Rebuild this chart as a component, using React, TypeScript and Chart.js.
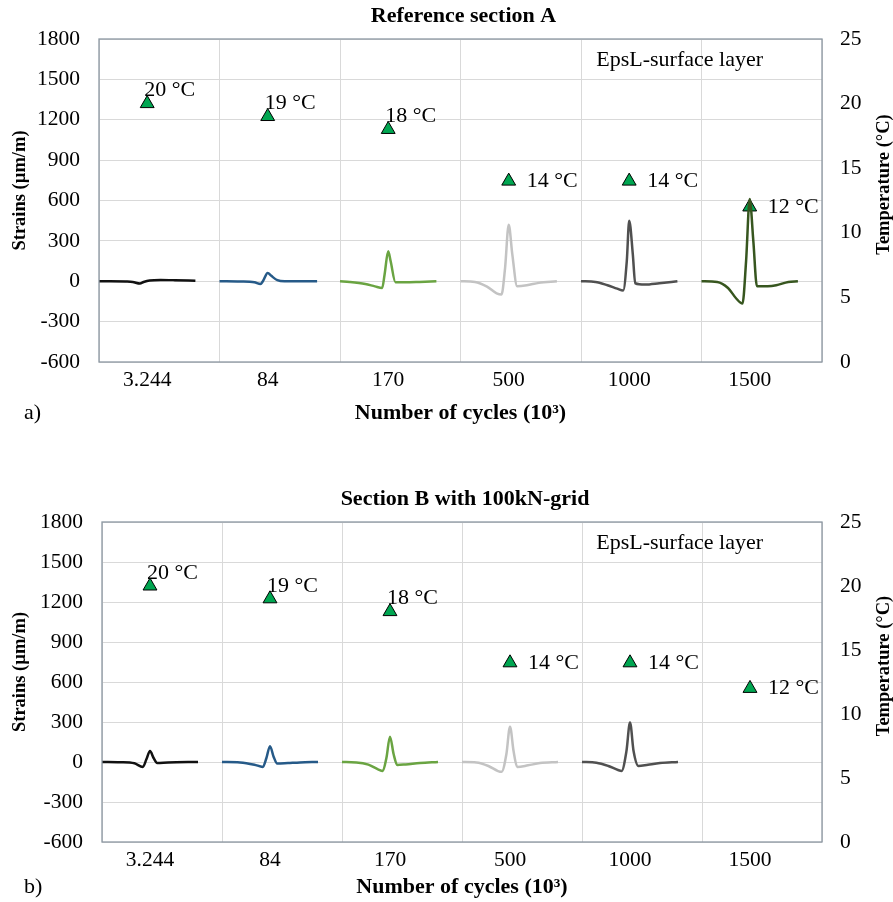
import React, { useEffect, useRef } from 'react';
import { Chart, registerables } from 'chart.js';

Chart.register(...registerables);

// ---------- data ----------
const categories = ['3.244', '84', '170', '500', '1000', '1500'];
const temperatureA = [20, 19, 18, 14, 14, 12];
const temperatureB = [20, 19, 18, 14, 14, 12];
const strainAxis = { min: -600, max: 1800, step: 300 };
const tempAxis = { min: 0, max: 25, step: 5 };
// time of the strain peak inside each loading window (fraction of one slot);
// temperature markers and cycle labels sit there
const peakTime = 0.4;

// time within a loading window (fraction of one category slot) and strain (µm/m)
// Section A
const a3244T = [0, 0.09, 0.22, 0.28, 0.34, 0.37, 0.42, 0.51, 0.63, 0.8];
const a3244V = [0, 0, -2, -5, -17, -6, 6, 10, 8, 3];
const a84T = [0, 0.17, 0.29, 0.34, 0.36, 0.4, 0.43, 0.48, 0.54, 0.67, 0.81];
const a84V = [0, -2, -8, -20, 0, 62, 40, 8, 0, 0, 0];
const a170T = [0, 0.08, 0.21, 0.29, 0.35, 0.37, 0.4, 0.42, 0.46, 0.54, 0.66, 0.8];
const a170V = [0, -5, -20, -38, -50, 50, 222, 150, -7, -8, -5, 0];
const a500T = [0, 0.12, 0.22, 0.3, 0.34, 0.37, 0.4, 0.43, 0.47, 0.55, 0.65, 0.8];
const a500V = [0, -5, -40, -90, -99, 100, 420, 200, -37, -30, -12, 0];
const a1000T = [0, 0.12, 0.22, 0.3, 0.35, 0.38, 0.4, 0.43, 0.45, 0.53, 0.65, 0.8];
const a1000V = [0, -5, -30, -55, -69, 150, 450, 200, -15, -25, -15, 0];
const a1500T = [0, 0.13, 0.22, 0.29, 0.34, 0.37, 0.4, 0.43, 0.46, 0.55, 0.62, 0.72, 0.8];
const a1500V = [0, -5, -50, -130, -166, 150, 611, 300, -37, -37, -30, -5, 0];
// Section B
const b3244T = [0, 0.15, 0.27, 0.34, 0.37, 0.4, 0.43, 0.46, 0.55, 0.8];
const b3244V = [0, -2, -10, -37, 20, 82, 30, -7, -3, 0];
const b84T = [0, 0.15, 0.27, 0.34, 0.37, 0.4, 0.43, 0.46, 0.55, 0.65, 0.8];
const b84V = [0, -3, -20, -37, 30, 119, 40, -12, -8, -3, 0];
const b170T = [0, 0.12, 0.22, 0.3, 0.34, 0.37, 0.4, 0.43, 0.46, 0.53, 0.65, 0.8];
const b170V = [0, -3, -20, -55, -67, 30, 190, 60, -22, -18, -8, 0];
const b500T = [0, 0.12, 0.22, 0.3, 0.33, 0.37, 0.4, 0.43, 0.46, 0.55, 0.65, 0.8];
const b500V = [0, -3, -30, -68, -74, 60, 265, 80, -37, -25, -8, 0];
const b1000T = [0, 0.12, 0.22, 0.3, 0.33, 0.37, 0.4, 0.43, 0.47, 0.55, 0.65, 0.8];
const b1000V = [0, -5, -30, -60, -67, 80, 297, 80, -30, -20, -8, 0];

const seriesColors = ['#111111', '#265a88', '#6aa442', '#c3c3c3', '#505050', '#37561f'];

const curvesA = [
  { slot: 0, t: a3244T, v: a3244V },
  { slot: 1, t: a84T, v: a84V },
  { slot: 2, t: a170T, v: a170V },
  { slot: 3, t: a500T, v: a500V },
  { slot: 4, t: a1000T, v: a1000V },
  { slot: 5, t: a1500T, v: a1500V },
];
const curvesB = [
  { slot: 0, t: b3244T, v: b3244V },
  { slot: 1, t: b84T, v: b84V },
  { slot: 2, t: b170T, v: b170V },
  { slot: 3, t: b500T, v: b500V },
  { slot: 4, t: b1000T, v: b1000V },
];

// ---------- styling ----------
const SERIF = '"Liberation Serif", "Times New Roman", serif';
const GRID = '#d9d9d9';
const FRAME = '#8c97a2';
const W = 893;

type Box = { left: number; right: number; top: number; bottom: number };

function StrainChart(props: {
  title: string;
  temps: number[];
  curves: { slot: number; t: number[]; v: number[] }[];
  box: Box;
  height: number;
  top: number;
  tag: string;
  xTitleY: number;
}) {
  const ref = useRef<HTMLCanvasElement | null>(null);
  useEffect(() => {
    const { box, height, title, temps, curves, tag, xTitleY } = props;
    const datasets: any[] = curves.map((c) => ({
      type: 'line',
      data: c.t.map((t, k) => ({ x: c.slot + t, y: c.v[k] })),
      xAxisID: 'x',
      yAxisID: 'y',
      borderColor: seriesColors[c.slot],
      borderWidth: 2.5,
      pointRadius: 0,
      cubicInterpolationMode: 'monotone',
      fill: false,
    }));
    const tempIndex = datasets.length;
    datasets.push({
      type: 'line',
      data: temps.map((v, i) => ({ x: i + peakTime, y: v })),
      xAxisID: 'x',
      yAxisID: 'y2',
      showLine: false,
      pointStyle: 'triangle',
      pointRadius: 8,
      pointBackgroundColor: '#00a651',
      pointBorderColor: '#000000',
      pointBorderWidth: 1,
    });

    const decor = {
      id: 'decor',
      afterDraw(chart: any) {
        const { ctx, chartArea: a } = chart;
        ctx.save();
        ctx.strokeStyle = FRAME;
        ctx.lineWidth = 1.3;
        ctx.strokeRect(a.left, a.top, a.right - a.left, a.bottom - a.top);

        ctx.fillStyle = '#000';
        ctx.textBaseline = 'middle';
        ctx.font = `bold 22px ${SERIF}`;
        ctx.textAlign = 'center';
        ctx.fillText(title, (a.left + a.right) / 2 + 3, a.top - 23);
        ctx.fillText('Number of cycles (10³)', (a.left + a.right) / 2, xTitleY);
        ctx.font = `22px ${SERIF}`;
        ctx.textAlign = 'left';
        ctx.fillText(tag, 24, xTitleY);
        ctx.textAlign = 'right';
        ctx.fillText('EpsL-surface layer', a.right - 59, a.top + 21);
        const meta = chart.getDatasetMeta(tempIndex);
        ctx.textAlign = 'left';
        meta.data.forEach((p: any, i: number) => {
          const txt = `${temps[i]} °C`;
          if (i < 3) ctx.fillText(txt, p.x - 3, p.y - 13);
          else ctx.fillText(txt, p.x + 18, p.y);
        });
        ctx.font = `bold 18.5px ${SERIF}`;
        ctx.textAlign = 'center';
        const mid = (a.top + a.bottom) / 2;
        ctx.save();
        ctx.translate(20, mid - 10);
        ctx.rotate(-Math.PI / 2);
        ctx.fillText('Strains (µm/m)', 0, 0);
        ctx.restore();
        ctx.save();
        ctx.translate(884, mid - 16);
        ctx.rotate(-Math.PI / 2);
        ctx.fillText('Temperature (°C)', 0, 0);
        ctx.restore();
        ctx.restore();
      },
    };

    const tickFont = { family: SERIF, size: 21.5 };
    const chart = new Chart(ref.current as HTMLCanvasElement, {
      type: 'line',
      data: { labels: categories, datasets },
      plugins: [decor],
      options: {
        animation: false,
        responsive: false,
        devicePixelRatio: 1,
        layout: { padding: { top: box.top, left: 0, right: 0, bottom: 0 } },
        plugins: { legend: { display: false }, tooltip: { enabled: false }, title: { display: false } },
        scales: {
          x: {
            type: 'linear',
            position: 'bottom',
            min: 0,
            max: categories.length,
            grid: { display: false, drawTicks: false },
            border: { display: false },
            afterBuildTicks: (s: any) => {
              s.ticks = categories.map((_, i) => ({ value: i + peakTime }));
            },
            ticks: {
              font: tickFont,
              color: '#000',
              padding: 5,
              maxRotation: 0,
              autoSkip: false,
              callback: (_v: any, i: number) => categories[i],
            },
            afterFit: (s: any) => { s.height = height - box.bottom; },
          },
          xg: {
            type: 'category',
            position: 'bottom',
            offset: true,
            grid: { offset: true, color: GRID, drawTicks: false, lineWidth: 1 },
            border: { display: false },
            ticks: { display: false },
            afterFit: (s: any) => { s.height = 0; },
          },
          y: {
            position: 'left',
            min: strainAxis.min,
            max: strainAxis.max,
            grid: { color: GRID, drawTicks: false },
            border: { display: false },
            ticks: {
              stepSize: strainAxis.step,
              font: tickFont,
              color: '#000',
              padding: 19,
              callback: (v: any) => String(v),
            },
            afterFit: (s: any) => { s.width = box.left; },
          },
          y2: {
            position: 'right',
            min: tempAxis.min,
            max: tempAxis.max,
            grid: { display: false, drawTicks: false },
            border: { display: false },
            ticks: {
              stepSize: tempAxis.step,
              font: tickFont,
              color: '#000',
              padding: 18,
              callback: (v: any) => String(v),
            },
            afterFit: (s: any) => { s.width = W - box.right; },
          },
        },
      } as any,
    });
    return () => chart.destroy();
  }, []);
  return (
    <canvas
      ref={ref}
      width={W}
      height={props.height}
      style={{ position: 'absolute', left: 0, top: props.top, width: W, height: props.height }}
    />
  );
}

export default function App() {
  return (
    <div style={{ position: 'absolute', left: 0, top: 0, width: W, height: 902, background: '#fff' }}>
      <StrainChart
        title="Reference section A"
        temps={temperatureA}
        curves={curvesA}
        box={{ left: 99, right: 822, top: 39, bottom: 362 }}
        height={440}
        top={0}
        tag="a)"
        xTitleY={413}
      />
      <StrainChart
        title="Section B with 100kN-grid"
        temps={temperatureB}
        curves={curvesB}
        box={{ left: 102, right: 822, top: 39, bottom: 359 }}
        height={419}
        top={483}
        tag="b)"
        xTitleY={404}
      />
    </div>
  );
}
